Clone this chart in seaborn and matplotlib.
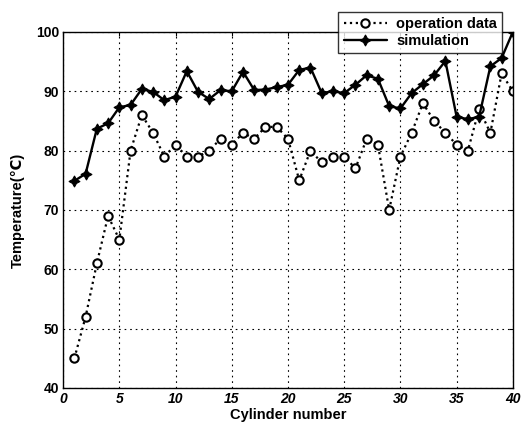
import numpy as np
import pandas as pd
import matplotlib
matplotlib.use("Agg")
import matplotlib.pyplot as plt
import seaborn as sns

cylinders = list(range(1, 41))
operation_data = [45, 52, 61, 69, 65, 80, 86, 83, 79, 81,
                  79, 79, 80, 82, 81, 83, 82, 84, 84, 82,
                  75, 80, 78, 79, 79, 77, 82, 81, 70, 79,
                  83, 88, 85, 83, 81, 80, 87, 83, 93, 90]
simulation = [74.9, 76.1, 83.7, 84.6, 87.3, 87.7, 90.4, 89.9, 88.5, 89.1,
              93.4, 89.9, 88.7, 90.2, 90.0, 93.3, 90.2, 90.3, 90.7, 91.1,
              93.6, 94.0, 89.7, 90.0, 89.7, 91.1, 92.7, 92.1, 87.5, 87.1,
              89.7, 91.2, 92.7, 95.1, 85.7, 85.3, 85.7, 94.2, 95.6, 100.0]
x_ticks = [0, 5, 10, 15, 20, 25, 30, 35, 40]
y_ticks = [40, 50, 60, 70, 80, 90, 100]

sns.set_style("white")
plt.rcParams['font.family'] = ['Liberation Sans', 'DejaVu Sans']
plt.rcParams['text.color'] = 'black'
plt.rcParams['axes.labelcolor'] = 'black'
plt.rcParams['xtick.color'] = 'black'
plt.rcParams['ytick.color'] = 'black'

df_op = pd.DataFrame({"cyl": cylinders, "temp": operation_data})
df_sim = pd.DataFrame({"cyl": cylinders, "temp": simulation})

fig = plt.figure(figsize=(5.26, 4.30), dpi=100)
ax = fig.add_axes([0.12, 0.0977, 0.855, 0.828])

sns.lineplot(data=df_op, x="cyl", y="temp", ax=ax, color="black",
             linestyle=":", linewidth=1.6, marker="o", markersize=6,
             markerfacecolor="white", markeredgecolor="black",
             markeredgewidth=1.5, label="operation data")
sns.lineplot(data=df_sim, x="cyl", y="temp", ax=ax, color="black",
             linestyle="-", linewidth=1.7, marker=(4, 1, 0), markersize=8,
             markerfacecolor="black", markeredgecolor="black",
             label="simulation")

ax.set_xlim(0, 40)
ax.set_ylim(40, 100)
ax.set_xticks(x_ticks)
ax.set_yticks(y_ticks)
ax.set_xticklabels([str(t) for t in x_ticks], fontweight="bold",
                   fontstyle="italic", fontsize=10)
ax.set_yticklabels([str(t) for t in y_ticks], fontweight="bold", fontsize=10)
ax.tick_params(direction="in", length=3, width=0.8, colors="black",
               top=True, right=True, pad=3)
ax.grid(True, linestyle=(0, (1.5, 3.5)), color="black", linewidth=0.8)
for s in ax.spines.values():
    s.set_color("black")
    s.set_linewidth(1.0)

ax.set_xlabel("Cylinder number", fontweight="bold", fontsize=10.5,
              labelpad=1, color="black")
ax.set_ylabel("Temperature(\u2103)", fontweight="bold", fontsize=10.5,
              labelpad=8, color="black")

leg = ax.legend(loc="upper right", bbox_to_anchor=(0.976, 1.055), frameon=True,
                fancybox=False, edgecolor="black", fontsize=10.5,
                handlelength=3.0, borderpad=0.35, labelspacing=0.2,
                handletextpad=0.6, borderaxespad=0)
leg.get_frame().set_linewidth(1.0)
for t in leg.get_texts():
    t.set_fontweight("bold")
    t.set_color("black")

fig.savefig("out.png", dpi=100, facecolor="white")
